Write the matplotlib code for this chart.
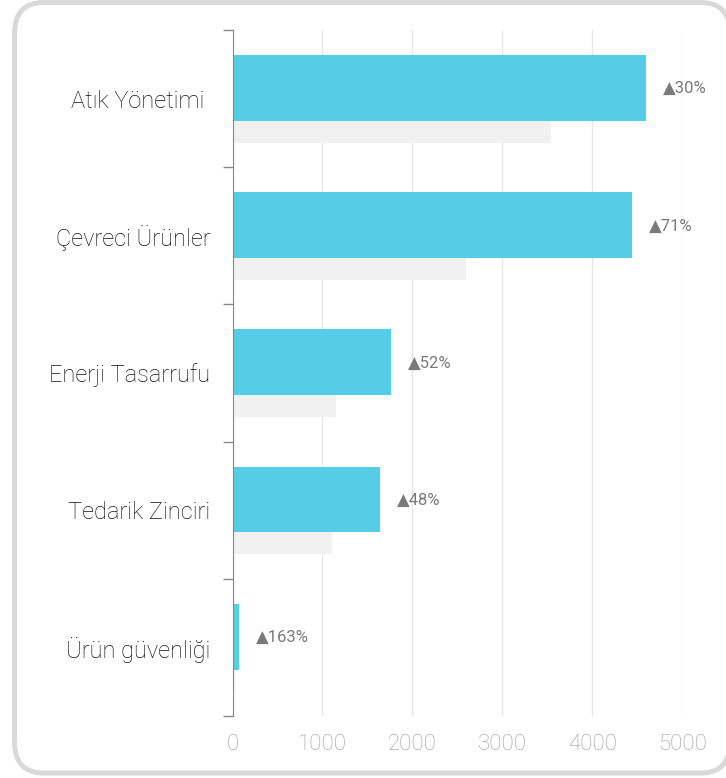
import matplotlib.pyplot as plt
from matplotlib.patches import FancyBboxPatch
from matplotlib.ticker import FixedLocator

categories = ["Atık Yönetimi ", "Çevreci Ürünler", "Enerji Tasarrufu", "Tedarik Zinciri", "Ürün güvenliği"]
current = [4600, 4440, 1765, 1645, 72]
previous = [3540, 2600, 1155, 1110, 27]
changes = ["▲30%", "▲71%", "▲52%", "▲48%", "▲163%"]
xticks = [0, 1000, 2000, 3000, 4000, 5000]

W, H = 726, 778
fig = plt.figure(figsize=(W / 100, H / 100), dpi=100)

# rounded frame around the card
frame = FancyBboxPatch((14.5 / W, 1 - 773 / H), (730 - 14.5) / W, (773 - 2.5) / H,
                       boxstyle="round,pad=0,rounding_size=0.04",
                       transform=fig.transFigure, facecolor="white",
                       edgecolor="#d9d9d9", linewidth=3.6, clip_on=False, zorder=-5)
fig.patches.append(frame)

ax = fig.add_axes([232.5 / W, 1 - 716 / H, (682 - 232.5) / W, (716 - 30) / H])
ax.set_facecolor("none")

pos = list(range(len(categories)))
blue_y = [p + 0.182 + 0.24 for p in pos]
gray_y = [p + 0.662 + 0.08 for p in pos]
ax.barh(gray_y, previous, height=0.16, color="#f1f1f1", zorder=2)
ax.barh(blue_y, current, height=0.48, color="#56cde6", zorder=3)

for y, v, c in zip(blue_y, current, changes):
    ax.annotate(c, (v, y), xytext=(17, -1), textcoords="offset pixels",
                ha="left", va="center", fontsize=12, color="#7a7a7a",
                family=["Roboto", "DejaVu Sans"], annotation_clip=False)

ax.set_xlim(0, 5000)
ax.set_ylim(len(categories), 0)
ax.set_xticks(xticks)
ax.set_xticklabels([str(t) for t in xticks], fontsize=16, color="#9c9c9c",
                   family="Roboto", fontweight="light")
ax.tick_params(axis="x", length=0, pad=13)

ax.set_yticks([p + 0.5 for p in pos])
ax.set_yticklabels(categories, fontsize=17, color="#111111", family="Roboto", fontweight="light")
ax.tick_params(axis="y", which="major", length=0, pad=16)
ax.yaxis.set_minor_locator(FixedLocator(list(range(len(categories) + 1))))
ax.tick_params(axis="y", which="minor", length=7, color="#888888", width=1)

ax.grid(axis="x", color="#e6e6e6", linewidth=1, zorder=0)
ax.set_axisbelow(True)
for s in ["top", "right", "bottom"]:
    ax.spines[s].set_visible(False)
ax.spines["left"].set_color("#888888")
ax.spines["left"].set_zorder(4)

fig.savefig("out.png", dpi=100)
